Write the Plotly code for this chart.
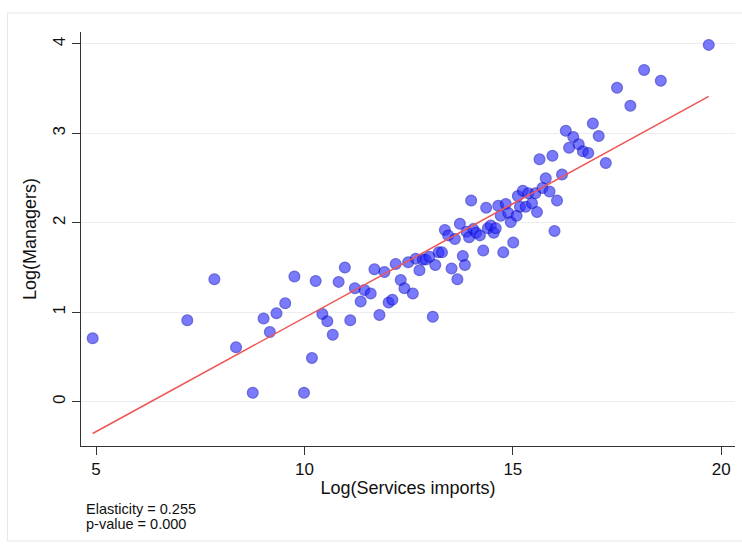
import numpy as np
import plotly.graph_objects as go

# Log(Services imports) per country
services_imports = [
    4.92, 7.19, 7.84, 8.36, 8.76, 9.02, 9.17, 9.33, 9.54, 9.76,
    9.99, 10.18, 10.27, 10.43, 10.55, 10.68, 10.82, 10.97, 11.10, 11.21,
    11.35, 11.44, 11.59, 11.68, 11.80, 11.92, 12.02, 12.11, 12.19, 12.31,
    12.40, 12.49, 12.60, 12.67, 12.76, 12.84, 12.91, 13.00, 13.08, 13.14,
    13.22, 13.30, 13.37, 13.45, 13.53, 13.61, 13.67, 13.73, 13.80, 13.85,
    13.89, 13.95, 14.00, 14.05, 14.12, 14.21, 14.29, 14.36, 14.40, 14.47,
    14.54, 14.59, 14.65, 14.71, 14.77, 14.83, 14.89, 14.95, 15.01, 15.09,
    15.12, 15.17, 15.24, 15.31, 15.37, 15.46, 15.54, 15.58, 15.71, 15.79,
    15.88, 15.64, 16.00, 16.06, 15.95, 16.18, 16.27, 16.35, 16.45, 16.58,
    16.68, 16.81, 16.92, 17.06, 17.23, 17.50, 17.82, 18.15, 18.55, 19.70,
]

# Log(Managers) per country
managers = [
    0.71, 0.91, 1.37, 0.61, 0.10, 0.93, 0.78, 0.99, 1.10, 1.40,
    0.10, 0.49, 1.35, 0.98, 0.90, 0.75, 1.34, 1.50, 0.91, 1.27,
    1.12, 1.25, 1.21, 1.48, 0.97, 1.45, 1.11, 1.14, 1.54, 1.36,
    1.27, 1.56, 1.21, 1.60, 1.47, 1.59, 1.59, 1.62, 0.95, 1.53,
    1.67, 1.67, 1.92, 1.86, 1.49, 1.82, 1.37, 1.99, 1.63, 1.53,
    1.90, 1.84, 2.25, 1.93, 1.89, 1.86, 1.69, 2.17, 1.94, 1.97,
    1.89, 1.94, 2.19, 2.08, 1.67, 2.21, 2.11, 2.01, 1.78, 2.08,
    2.30, 2.18, 2.36, 2.18, 2.33, 2.22, 2.33, 2.12, 2.39, 2.50,
    2.35, 2.71, 1.91, 2.25, 2.75, 2.54, 3.03, 2.84, 2.96, 2.88,
    2.80, 2.78, 3.11, 2.97, 2.67, 3.51, 3.31, 3.71, 3.59, 3.99,
]

# Fitted relationship
elasticity = 0.255
intercept = -1.61
p_value = 0.000

x_ticks = [5, 10, 15, 20]
y_ticks = [0, 1, 2, 3, 4]

FONT = "Liberation Sans, Arial, Helvetica, sans-serif"

fit_x = np.array([min(services_imports), max(services_imports)])
fit_y = intercept + elasticity * fit_x

fig = go.Figure()

fig.add_trace(go.Scatter(
    x=services_imports, y=managers, mode="markers",
    marker=dict(size=10.5, color="#2a2aff", opacity=0.62,
                line=dict(color="#1010c8", width=1.5)),
    showlegend=False, hoverinfo="x+y",
))

fig.add_trace(go.Scatter(
    x=fit_x, y=fit_y, mode="lines",
    line=dict(color="#ee5555", width=1.5),
    showlegend=False, hoverinfo="skip",
))

fig.update_layout(
    width=742, height=548,
    margin=dict(l=81, r=7, t=32, b=102),
    paper_bgcolor="white", plot_bgcolor="white",
    font=dict(family=FONT, color="#111111"),
    xaxis=dict(
        range=[4.64, 20.33], tickvals=x_ticks, showgrid=False, zeroline=False,
        showline=True, linecolor="#333333", linewidth=1,
        ticks="outside", ticklen=8, tickcolor="#333333",
        tickfont=dict(size=17, family=FONT),
        title=dict(text="Log(Services imports)", font=dict(size=18, family=FONT), standoff=2),
    ),
    yaxis=dict(
        range=[-0.495, 4.134], tickvals=y_ticks, showgrid=True,
        gridcolor="#eaeef0", gridwidth=1, zeroline=False,
        showline=True, linecolor="#333333", linewidth=1,
        ticks="outside", ticklen=8, tickcolor="#333333", tickangle=-90,
        tickfont=dict(size=17, family=FONT),
        title=dict(text="Log(Managers)", font=dict(size=18, family=FONT), standoff=8),
    ),
    shapes=[dict(
        type="rect", xref="paper", yref="paper",
        x0=-0.1125, x1=1.02, y0=-0.2295, y1=1.0459,
        line=dict(color="#e6e8ea", width=1), fillcolor="rgba(0,0,0,0)", layer="below",
    )],
    annotations=[
        dict(text=f"Elasticity = {elasticity:.3f}", xref="paper", yref="paper",
             x=0.005, y=-0.152, xanchor="left", yanchor="middle", showarrow=False,
             font=dict(size=14.5, family=FONT, color="#111111")),
        dict(text=f"p-value = {p_value:.3f}", xref="paper", yref="paper",
             x=0.005, y=-0.189, xanchor="left", yanchor="middle", showarrow=False,
             font=dict(size=14.5, family=FONT, color="#111111")),
    ],
)

fig.write_html("out.html")
